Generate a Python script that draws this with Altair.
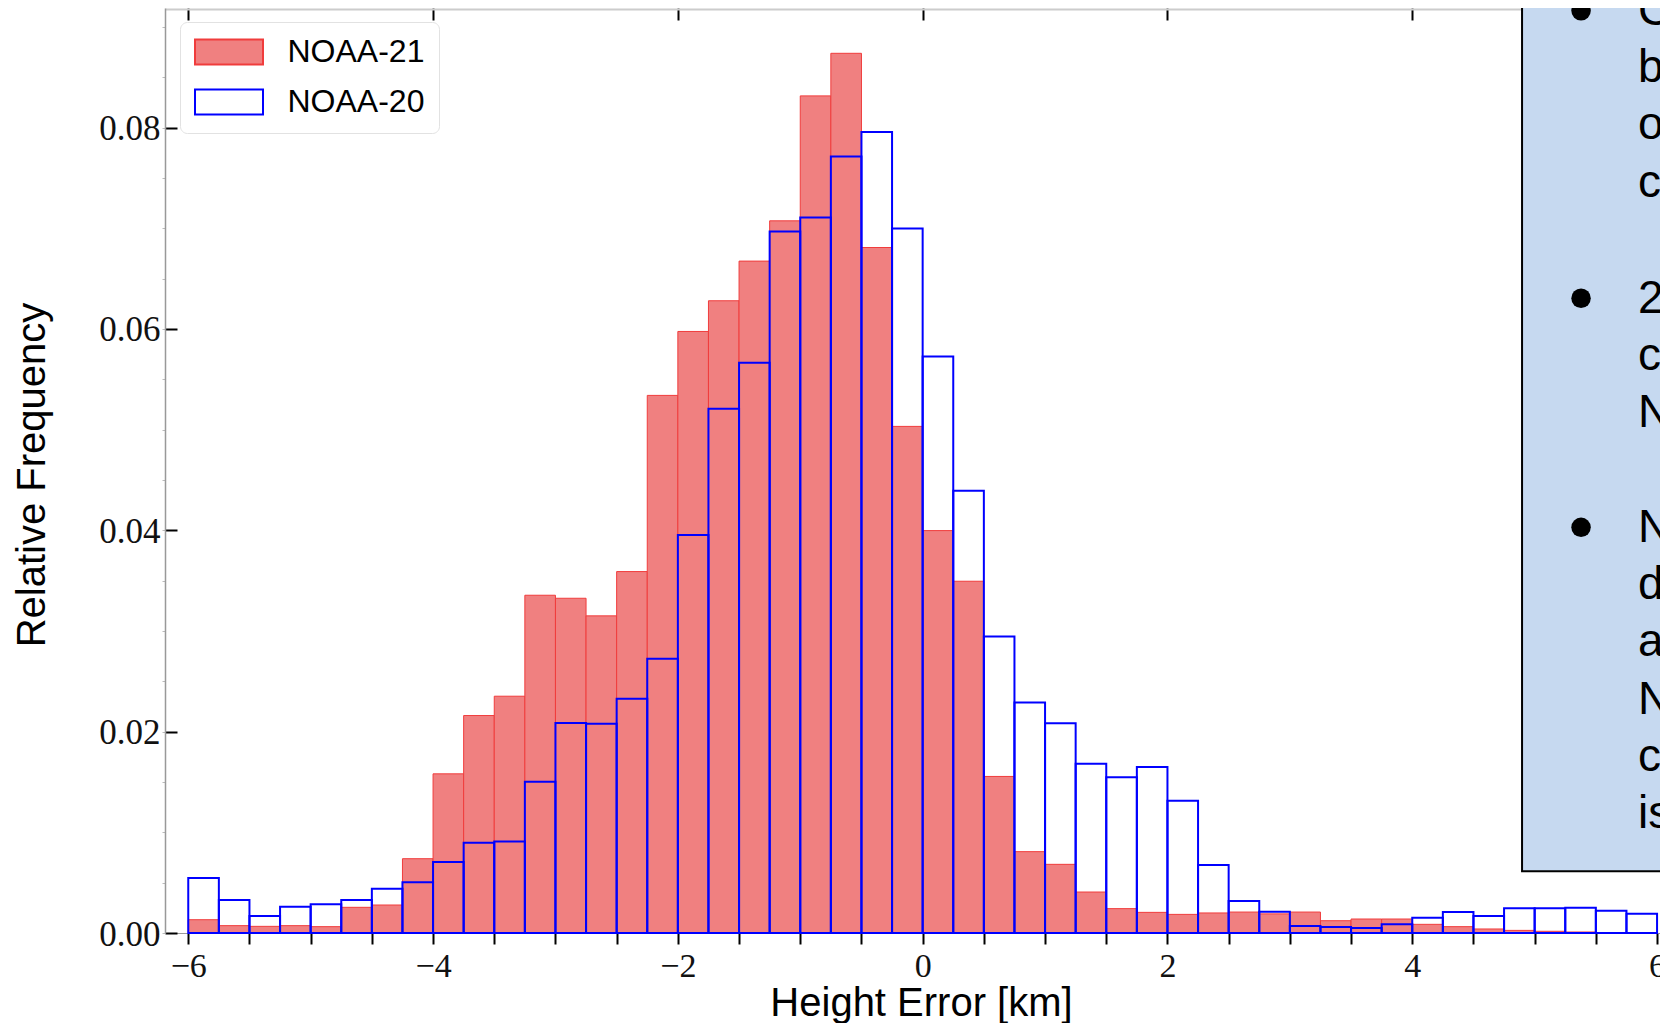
import altair as alt
import pandas as pd

# ---------------- data ----------------
series_names = ["NOAA-21", "NOAA-20"]

bin_left = [-6.0, -5.75, -5.5, -5.25, -5.0, -4.75, -4.5, -4.25,
            -4.0, -3.75, -3.5, -3.25, -3.0, -2.75, -2.5, -2.25,
            -2.0, -1.75, -1.5, -1.25, -1.0, -0.75, -0.5, -0.25,
            0.0, 0.25, 0.5, 0.75, 1.0, 1.25, 1.5, 1.75,
            2.0, 2.25, 2.5, 2.75, 3.0, 3.25, 3.5, 3.75,
            4.0, 4.25, 4.5, 4.75, 5.0, 5.25, 5.5, 5.75]
bin_width = 0.25

noaa21 = [0.00132, 0.00073, 0.00066, 0.00073, 0.00063, 0.00255, 0.00278, 0.00738,
          0.01581, 0.02160, 0.02352, 0.03355, 0.03325, 0.03150, 0.03590, 0.05340,
          0.05975, 0.06280, 0.06674, 0.07074, 0.08315, 0.08738, 0.06809, 0.05032,
          0.03997, 0.03494, 0.01555, 0.00808, 0.00682, 0.00407, 0.00242, 0.00205,
          0.00185, 0.00199, 0.00208, 0.00190, 0.00208, 0.00122, 0.00139, 0.00139,
          0.00086, 0.00063, 0.00040, 0.00026, 0.00017, 0.00010, 0.00003, 0.00000]

noaa20 = [0.00546, 0.00328, 0.00169, 0.00261, 0.00285, 0.00328, 0.00440, 0.00503,
          0.00705, 0.00897, 0.00910, 0.01503, 0.02086, 0.02078, 0.02327, 0.02725,
          0.03954, 0.05208, 0.05665, 0.06968, 0.07107, 0.07712, 0.07957, 0.06998,
          0.05727, 0.04394, 0.02945, 0.02290, 0.02084, 0.01680, 0.01548, 0.01648,
          0.01313, 0.00675, 0.00318, 0.00212, 0.00070, 0.00060, 0.00050, 0.00086,
          0.00152, 0.00208, 0.00169, 0.00245, 0.00245, 0.00251, 0.00222, 0.00192]

x_major_ticks = [-6, -4, -2, 0, 2, 4, 6]
x_all_ticks = [-6, -5.5, -5, -4.5, -4, -3.5, -3, -2.5, -2, -1.5, -1, -0.5,
               0, 0.5, 1, 1.5, 2, 2.5, 3, 3.5, 4, 4.5, 5, 5.5, 6]
y_major_ticks = [0.0, 0.02, 0.04, 0.06, 0.08]
y_minor_ticks = [0.0, 0.005, 0.01, 0.015, 0.02, 0.025, 0.03, 0.035, 0.04, 0.045,
                 0.05, 0.055, 0.06, 0.065, 0.07, 0.075, 0.08, 0.085, 0.09]

# side text panel (partly cut off at the right edge, as in the reference)
panel_lines = ["Collocations", "between", "observed", "cloud tops",
               "2023 winter", "cases from", "NOAA-20",
               "NOAA-21", "detects", "agrees", "NOAA-20", "compared", "is"]
panel_line_y = [0.09022, 0.08453, 0.07884, 0.07315,
                0.06162, 0.05597, 0.05027,
                0.03887, 0.03318, 0.02749, 0.02179, 0.01610, 0.01041]
panel_text_x = 5.845
bullet_y = [0.09160, 0.06305, 0.04030]
bullet_x = 5.379
panel_box = dict(bx0=4.897, bx1=7.5, by0=0.00613, by1=0.1)

# ---------------- tables ----------------
df21 = pd.DataFrame({"x0": bin_left, "x1": [b + bin_width for b in bin_left],
                     "freq": noaa21, "base": 0.0, "sat": series_names[0]})
df20 = pd.DataFrame({"x0": bin_left, "x1": [b + bin_width for b in bin_left],
                     "freq": noaa20, "base": 0.0, "sat": series_names[1]})
df_all = pd.concat([df21, df20], ignore_index=True)
df_text = pd.DataFrame({"tx": [panel_text_x] * len(panel_lines), "ty": panel_line_y,
                        "txt": panel_lines})
df_bullet = pd.DataFrame({"bx": [bullet_x] * len(bullet_y), "by": bullet_y})
df_box = pd.DataFrame([panel_box])

# ---------------- scales ----------------
PLOT_W = 1495
PLOT_H = 925
X_DOMAIN = [-6.19, -6.19 + PLOT_W / 122.4]
Y_DOMAIN = [0.0, 0.09188]
xs = alt.Scale(domain=X_DOMAIN, nice=False, zero=False)
ys = alt.Scale(domain=Y_DOMAIN, nice=False, zero=False)
fill_scale = alt.Scale(domain=series_names, range=["#F08080", "transparent"])
stroke_scale = alt.Scale(domain=series_names, range=["#F03C3C", "#0000FF"])

legend = alt.Legend(
    title=None, orient="none", legendX=15, legendY=14,
    symbolType="M-4,-1.47L4,-1.47L4,1.47L-4,1.47Z", symbolSize=289,
    symbolStrokeWidth=2, symbolOffset=19, labelOffset=42.5,
    labelExpr="datum.label + '\u00a0\u00a0\u00a0'",
    labelFont="Liberation Sans", labelFontSize=32, labelColor="black",
    padding=14, rowPadding=16, fillColor="white", strokeColor="#e2e2e2",
    cornerRadius=7,
)

x_bottom = alt.Axis(
    orient="bottom", values=x_all_ticks,
    labelExpr="datum.value % 2 == 0 ? format(datum.value, 'd') : ''",
    tickSize=11, tickWidth=2, tickColor="black",
    domainColor="#999999", domainWidth=1,
    labelFont="Liberation Serif", labelFontSize=34, labelColor="#111111",
    labelPadding=5, labelFlush=False, labelOverlap=False,
    title="Height Error [km]", titleFont="Liberation Sans", titleFontSize=40,
    titleFontWeight="normal", titleColor="black", titleX=756, titleY=82,
    titleBaseline="alphabetic", titleAlign="center", grid=False,
)
y_left = alt.Axis(
    orient="left", values=y_major_ticks, format=".2f", offset=-12,
    tickSize=12, tickWidth=2, tickColor="black", domain=False,
    labelFont="Liberation Serif", labelFontSize=35, labelColor="#111111",
    labelPadding=5, labelOffset=1, title=None, grid=False,
)
x_top_ticks = alt.Axis(
    orient="top", values=x_major_ticks, offset=-12, tickSize=12, tickWidth=2,
    tickColor="black", domain=False, labels=False, title=None, grid=False,
)
x_top_spine = alt.Axis(
    orient="top", offset=-1, domain=True, domainColor="#cccccc", domainWidth=2,
    ticks=False, labels=False, title=None, grid=False,
)
y_spine = alt.Axis(
    orient="left", values=y_minor_ticks, domain=True, domainColor="#999999",
    domainWidth=1.5, ticks=True, tickSize=3, tickColor="#bbbbbb", tickWidth=1,
    labels=False, grid=False,
    title="Relative Frequency", titleFont="Liberation Sans", titleFontSize=40,
    titleFontWeight="normal", titleColor="black", titleAngle=270,
    titleBaseline="alphabetic", titleAlign="center", titleX=-121, titleY=466.5,
)

# ---------------- layers ----------------
red = alt.Chart(df21).mark_bar(strokeWidth=1).encode(
    x=alt.X("x0:Q", scale=xs, axis=x_bottom),
    x2="x1:Q",
    y=alt.Y("freq:Q", scale=ys, axis=y_left),
    y2="base:Q",
    fill=alt.Fill("sat:N", scale=fill_scale, legend=legend),
    stroke=alt.Stroke("sat:N", scale=stroke_scale, legend=legend),
)
blue = alt.Chart(df20).mark_bar(strokeWidth=2).encode(
    x=alt.X("x0:Q", scale=xs, axis=None),
    x2="x1:Q",
    y=alt.Y("freq:Q", scale=ys, axis=None),
    y2="base:Q",
    fill=alt.Fill("sat:N", scale=fill_scale, legend=legend),
    stroke=alt.Stroke("sat:N", scale=stroke_scale, legend=legend),
)
top_ticks = alt.Chart(df_all).mark_point(opacity=0).encode(
    x=alt.X("x0:Q", scale=xs, axis=x_top_ticks),
    y=alt.Y("freq:Q", scale=ys, axis=None),
)
spines = alt.Chart(df_all).mark_point(opacity=0).encode(
    x=alt.X("x0:Q", scale=xs, axis=x_top_spine),
    y=alt.Y("freq:Q", scale=ys, axis=y_spine),
)
box = alt.Chart(df_box).mark_rect(fill="#C6D9F0", stroke="black", strokeWidth=2).encode(
    x=alt.X("bx0:Q", scale=xs, axis=None), x2="bx1:Q",
    y=alt.Y("by0:Q", scale=ys, axis=None), y2="by1:Q",
)
bullets = alt.Chart(df_bullet).mark_point(
    shape="circle", filled=True, size=380, color="black", opacity=1
).encode(
    x=alt.X("bx:Q", scale=xs, axis=None),
    y=alt.Y("by:Q", scale=ys, axis=None),
)
texts = alt.Chart(df_text).mark_text(
    align="left", baseline="alphabetic", font="Liberation Sans", fontSize=46, color="black"
).encode(
    x=alt.X("tx:Q", scale=xs, axis=None),
    y=alt.Y("ty:Q", scale=ys, axis=None),
    text="txt:N",
)

chart = alt.layer(red, blue, top_ticks, spines, box, bullets, texts).resolve_axis(
    x="independent", y="independent"
).properties(
    width=PLOT_W, height=PLOT_H,
    autosize=alt.AutoSizeParams(type="none"),
    padding={"left": 157, "top": 0, "right": 0, "bottom": 90},
    background="white",
).configure_view(stroke=None).configure_axis(grid=False)

chart.save("out.html", embed_options={"renderer": "svg", "actions": False})
